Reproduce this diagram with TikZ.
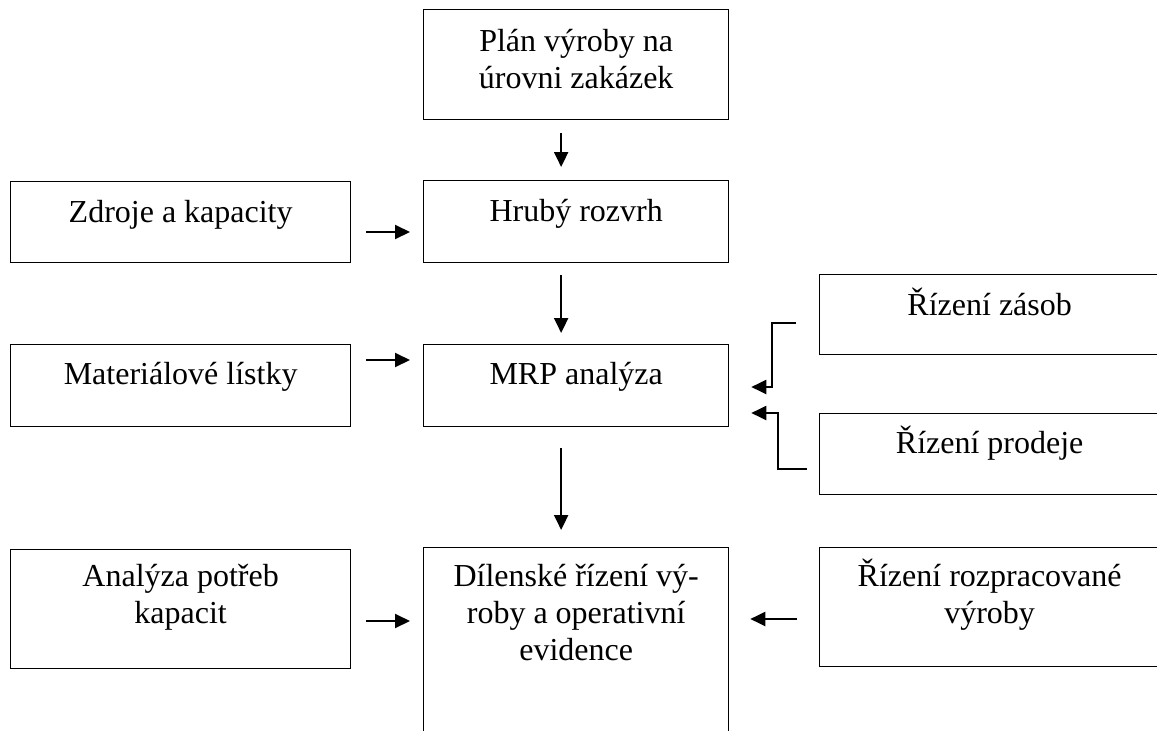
\documentclass[tikz,border=0pt]{standalone}
\usepackage{fontspec}
\setmainfont{Liberation Serif}
\usetikzlibrary{arrows.meta}
\begin{document}
\begin{tikzpicture}[x=1pt,y=-1pt,
  box/.style={draw, line width=1.3pt, inner sep=0pt, anchor=north west},
  label/.style={anchor=base, align=center, inner sep=0pt,
    font=\fontsize{32}{37}\selectfont},
  arr/.style={line width=2pt, -{Triangle[length=15pt,width=14pt]}}]
  \clip (0,0) rectangle (1157,731);
  \fill[white] (0,0) rectangle (1157,731);

  % boxes of the central column
  \node[box, minimum width=305pt, minimum height=110pt] (plan) at (423,9) {};
  \node[box, minimum width=305pt, minimum height=82pt]  (hruby) at (423,180) {};
  \node[box, minimum width=305pt, minimum height=82pt]  (mrp) at (423,344) {};
  \node[box, minimum width=305pt, minimum height=230pt] (dilna) at (423,547) {};

  % input boxes on the left
  \node[box, minimum width=340pt, minimum height=81pt]  (zdroje) at (10,181) {};
  \node[box, minimum width=340pt, minimum height=82pt]  (mat) at (10,344) {};
  \node[box, minimum width=340pt, minimum height=119pt] (kap) at (10,549) {};

  % boxes on the right
  \node[box, minimum width=340pt, minimum height=80pt]  (zasob) at (819,274) {};
  \node[box, minimum width=340pt, minimum height=81pt]  (prodej) at (819,413) {};
  \node[box, minimum width=340pt, minimum height=119pt] (rozpr) at (819,547) {};

  % texts (the base anchor sits on the last line)
  \node[label] (tplan) at ([yshift=-79pt]plan.north) {Plán výroby na\\úrovni zakázek};
  \node[label] (thruby) at ([yshift=-41pt]hruby.north) {Hrubý rozvrh};
  \node[label] (tmrp) at ([yshift=-40pt]mrp.north) {MRP analýza};
  \node[label] (tdilna) at ([yshift=-113pt]dilna.north) {Dílenské řízení vý-\\roby a operativní\\evidence};
  \node[label] (tzdroje) at ([yshift=-41pt]zdroje.north) {Zdroje a kapacity};
  \node[label] (tmat) at ([yshift=-40pt]mat.north) {Materiálové lístky};
  \node[label] (tkap) at ([yshift=-74pt]kap.north) {Analýza potřeb\\kapacit};
  \node[label] (tzasob) at ([yshift=-41pt]zasob.north) {Řízení zásob};
  \node[label] (tprodej) at ([yshift=-40pt]prodej.north) {Řízení prodeje};
  \node[label] (trozpr) at ([yshift=-76pt]rozpr.north) {Řízení rozpracované\\výroby};

  % vertical flow
  \draw[arr, shorten <=13pt, shorten >=13pt]
    ([xshift=-15pt]plan.south) -- ([xshift=-15pt]hruby.north);
  \draw[arr, shorten <=12pt, shorten >=11pt]
    ([xshift=-15pt]hruby.south) -- ([xshift=-15pt]mrp.north);
  \draw[arr, shorten <=21pt, shorten >=17pt]
    ([xshift=-15pt]mrp.south) -- ([xshift=-15pt]dilna.north);

  % inputs from the left
  \draw[arr, shorten <=15pt, shorten >=13pt]
    (zdroje.east |- 0,232) -- (hruby.west |- 0,232);
  \draw[arr, shorten <=15pt, shorten >=13pt]
    (mat.east |- 0,360) -- (mrp.west |- 0,360);
  \draw[arr, shorten <=15pt, shorten >=13pt]
    (kap.east |- 0,621) -- (dilna.west |- 0,621);

  % inputs from the right
  \coordinate (zs) at ([xshift=-23pt]zasob.west |- 0,323);
  \coordinate (pd) at ([xshift=-12pt]prodej.west |- 0,469);
  \draw[arr] (zs) -- (772,323) -- (772,387) -- ([xshift=22pt]mrp.east |- 0,387);
  \draw[arr] (pd) -- (778,469) -- (778,413) -- ([xshift=22pt]mrp.east |- 0,413);
  \draw[arr, shorten <=22pt, shorten >=21pt]
    (rozpr.west |- 0,619) -- (dilna.east |- 0,619);
\end{tikzpicture}
\end{document}
